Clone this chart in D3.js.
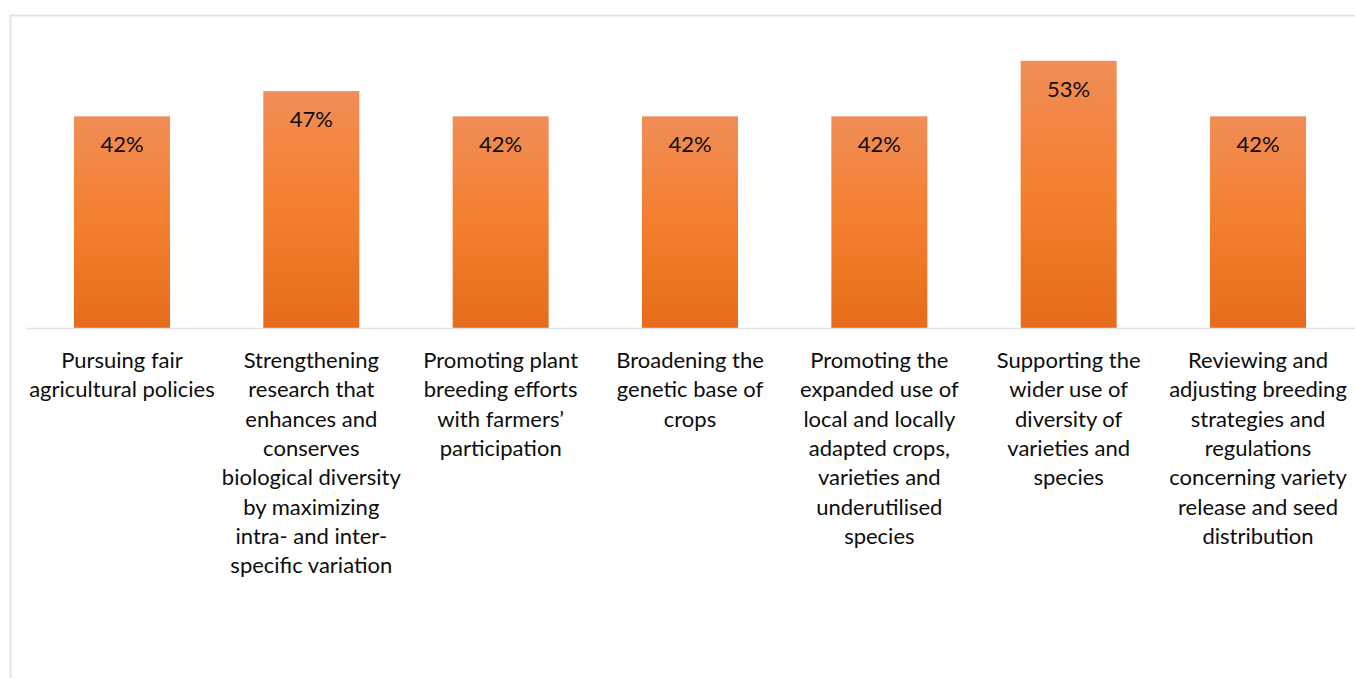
<!DOCTYPE html>
<html>
<head>
<meta charset="utf-8">
<script src="https://cdn.jsdelivr.net/npm/d3@7/dist/d3.min.js"></script>
<style>
  html, body { margin: 0; padding: 0; background: #fff; }
  svg { display: block; }
</style>
</head>
<body>
<svg id="chart" width="1355" height="678"></svg>
<script>
// Share of respondents per measure
const categories = [
  ["Pursuing fair", "agricultural policies"],
  ["Strengthening", "research that", "enhances and", "conserves", "biological diversity", "by maximizing", "intra- and inter-", "specific variation"],
  ["Promoting plant", "breeding efforts", "with farmers\u2019", "participation"],
  ["Broadening the", "genetic base of", "crops"],
  ["Promoting the", "expanded use of", "local and locally", "adapted crops,", "varieties and", "underutilised", "species"],
  ["Supporting the", "wider use of", "diversity of", "varieties and", "species"],
  ["Reviewing and", "adjusting breeding", "strategies and", "regulations", "concerning variety", "release and seed", "distribution"]
];
const values = [0.42, 0.47, 0.42, 0.42, 0.42, 0.53, 0.42];

const W = 1355, H = 678;
const svg = d3.select("#chart");
const font = "Lato, 'Open Sans', sans-serif";

// chart frame
svg.append("path")
  .attr("d", `M10.5,${H} V15.5 H${W}`)
  .attr("fill", "none")
  .attr("stroke", "#e0e4eb")
  .attr("stroke-width", 2);

const x = d3.scaleBand()
  .domain(d3.range(categories.length))
  .range([27.3, 1352.7])
  .paddingInner(0.493)
  .paddingOuter(0.2465);

const y = d3.scaleLinear().domain([0, 0.6]).range([328, 25.6]);

// vertical gradient for the bars
const defs = svg.append("defs");
const grad = defs.append("linearGradient")
  .attr("id", "barFill").attr("x1", 0).attr("y1", 0).attr("x2", 0).attr("y2", 1);
grad.append("stop").attr("offset", "0%").attr("stop-color", "#f18d57");
grad.append("stop").attr("offset", "50%").attr("stop-color", "#f47f2e");
grad.append("stop").attr("offset", "100%").attr("stop-color", "#e56c1b");

svg.append("g").selectAll("rect")
  .data(values)
  .join("rect")
  .attr("x", (d, i) => x(i))
  .attr("y", d => y(d))
  .attr("width", x.bandwidth())
  .attr("height", d => y(0) - y(d))
  .attr("fill", "url(#barFill)");

// baseline
svg.append("line")
  .attr("x1", 27).attr("x2", W)
  .attr("y1", y(0) + 0.5).attr("y2", y(0) + 0.5)
  .attr("stroke", "#dde2ea").attr("stroke-width", 1.5);

// value labels
svg.append("g").selectAll("text")
  .data(values)
  .join("text")
  .attr("x", (d, i) => x(i) + x.bandwidth() / 2)
  .attr("y", d => y(d) + 36)
  .attr("text-anchor", "middle")
  .attr("font-family", font)
  .attr("font-size", 22)
  .attr("fill", "#0d0d0d")
  .text(d => Math.round(d * 100) + "%");

// category labels
const lab = svg.append("g").selectAll("text")
  .data(categories)
  .join("text")
  .attr("x", (d, i) => x(i) + x.bandwidth() / 2)
  .attr("y", 368)
  .attr("text-anchor", "middle")
  .attr("font-family", font)
  .attr("font-size", 22)
  .attr("fill", "#0d0d0d");
lab.each(function(lines, i) {
  d3.select(this).selectAll("tspan")
    .data(lines)
    .join("tspan")
    .attr("x", x(i) + x.bandwidth() / 2)
    .attr("dy", (l, k) => k === 0 ? 0 : 29.3)
    .text(l => l);
});
</script>
</body>
</html>
